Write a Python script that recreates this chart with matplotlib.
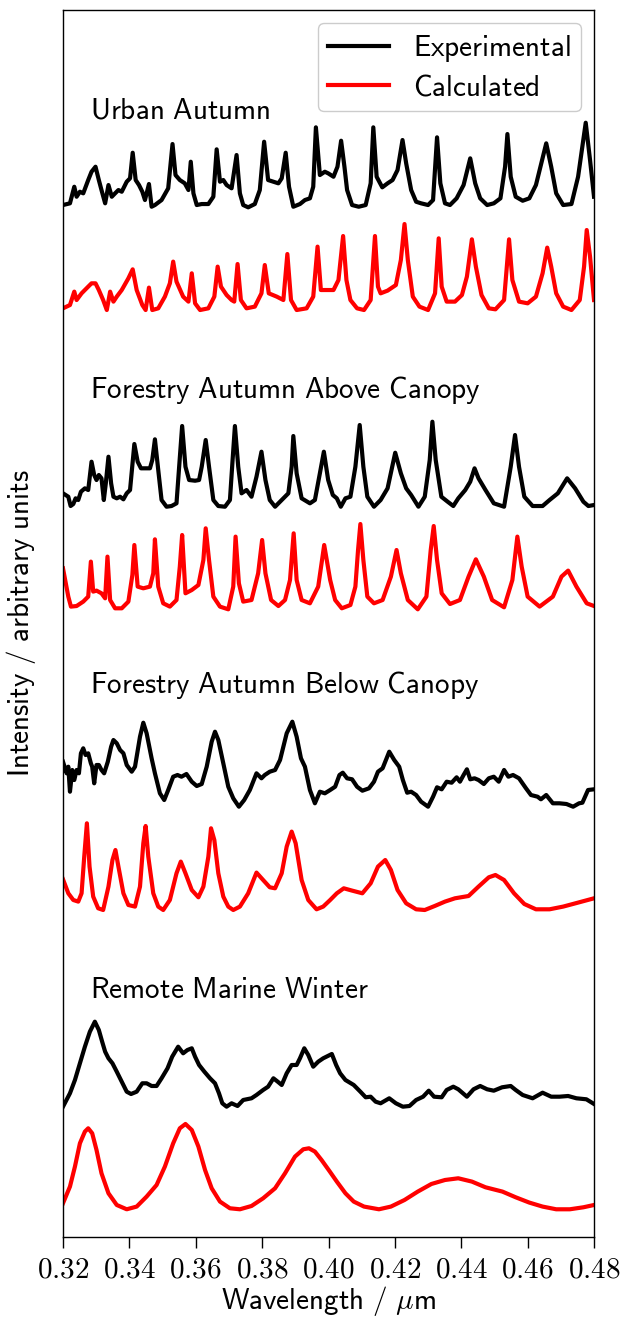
"""Stacked experimental vs calculated spectra for four sampling sites."""

import matplotlib
matplotlib.use("Agg")
import matplotlib.pyplot as plt
import numpy as np
from matplotlib.ticker import FixedLocator, FixedFormatter

plt.rcParams["mathtext.fontset"] = "cm"

# (wavelength / um, intensity / arb.)
URBAN_EXP = [
    (0.3200, 0.05), (0.3221, 0.067), (0.3234, 0.233), (0.3241, 0.133), (0.3251, 0.183),
    (0.3261, 0.167), (0.3276, 0.30), (0.3286, 0.383), (0.3298, 0.433), (0.3308, 0.30),
    (0.3316, 0.20), (0.3327, 0.067), (0.3337, 0.25), (0.3347, 0.133), (0.3357, 0.167),
    (0.3367, 0.20), (0.3377, 0.183), (0.3392, 0.283), (0.3402, 0.317), (0.3410, 0.573),
    (0.3419, 0.30), (0.3429, 0.25), (0.3439, 0.183), (0.3447, 0.10), (0.3459, 0.26),
    (0.3467, 0.033), (0.3477, 0.05), (0.3497, 0.10), (0.3517, 0.217), (0.3530, 0.66),
    (0.3539, 0.35), (0.3552, 0.30), (0.3567, 0.267), (0.3578, 0.20), (0.3585, 0.483),
    (0.3593, 0.167), (0.3603, 0.05), (0.3618, 0.06), (0.3638, 0.06), (0.3653, 0.133),
    (0.3663, 0.607), (0.3673, 0.283), (0.3683, 0.30), (0.3693, 0.25), (0.3708, 0.217),
    (0.3723, 0.55), (0.3733, 0.167), (0.3743, 0.05), (0.3758, 0.027), (0.3778, 0.06),
    (0.3793, 0.20), (0.3806, 0.683), (0.3818, 0.30), (0.3834, 0.283), (0.3849, 0.267),
    (0.3859, 0.317), (0.3871, 0.573), (0.3881, 0.233), (0.3894, 0.033), (0.3914, 0.06),
    (0.3929, 0.10), (0.3944, 0.117), (0.3954, 0.233), (0.3962, 0.827), (0.3974, 0.35),
    (0.3989, 0.383), (0.3999, 0.367), (0.4015, 0.333), (0.4027, 0.433), (0.4038, 0.693),
    (0.4048, 0.433), (0.4056, 0.20), (0.4071, 0.05), (0.4091, 0.033), (0.4112, 0.05),
    (0.4127, 0.267), (0.4135, 0.827), (0.4145, 0.333), (0.4162, 0.227), (0.4178, 0.267),
    (0.4193, 0.30), (0.4208, 0.40), (0.4223, 0.70), (0.4234, 0.467), (0.4249, 0.20),
    (0.4264, 0.083), (0.4279, 0.067), (0.4300, 0.05), (0.4315, 0.10), (0.4327, 0.727),
    (0.4337, 0.267), (0.4351, 0.067), (0.4366, 0.05), (0.4386, 0.117), (0.4407, 0.25),
    (0.4427, 0.517), (0.4442, 0.267), (0.4457, 0.117), (0.4478, 0.05), (0.4498, 0.067),
    (0.4518, 0.117), (0.4532, 0.433), (0.4539, 0.76), (0.4549, 0.333), (0.4564, 0.133),
    (0.4585, 0.093), (0.4605, 0.117), (0.4625, 0.25), (0.4656, 0.667), (0.4671, 0.433),
    (0.4686, 0.167), (0.4707, 0.05), (0.4732, 0.06), (0.4752, 0.333), (0.4775, 0.873),
    (0.4788, 0.50), (0.4800, 0.133),
]
URBAN_CALC = [
    (0.3200, 0.05), (0.3221, 0.083), (0.3234, 0.217), (0.3241, 0.133), (0.3256, 0.20),
    (0.3276, 0.267), (0.3286, 0.30), (0.3298, 0.30), (0.3308, 0.233), (0.3321, 0.133),
    (0.3332, 0.033), (0.3342, 0.217), (0.3352, 0.117), (0.3362, 0.167), (0.3377, 0.233),
    (0.3397, 0.35), (0.3410, 0.44), (0.3422, 0.233), (0.3439, 0.083), (0.3449, 0.033),
    (0.3459, 0.257), (0.3469, 0.033), (0.3487, 0.05), (0.3507, 0.167), (0.3522, 0.30),
    (0.3532, 0.517), (0.3542, 0.317), (0.3562, 0.167), (0.3578, 0.117), (0.3588, 0.40),
    (0.3598, 0.10), (0.3613, 0.033), (0.3638, 0.05), (0.3656, 0.167), (0.3666, 0.467),
    (0.3676, 0.267), (0.3693, 0.183), (0.3708, 0.133), (0.3716, 0.117), (0.3726, 0.493),
    (0.3736, 0.133), (0.3753, 0.05), (0.3778, 0.067), (0.3798, 0.20), (0.3808, 0.483),
    (0.3820, 0.20), (0.3844, 0.167), (0.3864, 0.133), (0.3876, 0.593), (0.3887, 0.133),
    (0.3904, 0.033), (0.3934, 0.05), (0.3954, 0.167), (0.3967, 0.667), (0.3977, 0.233),
    (0.4004, 0.233), (0.4015, 0.233), (0.4030, 0.333), (0.4044, 0.773), (0.4054, 0.333),
    (0.4066, 0.133), (0.4086, 0.05), (0.4107, 0.033), (0.4127, 0.133), (0.4140, 0.773),
    (0.4149, 0.267), (0.4157, 0.20), (0.4178, 0.227), (0.4203, 0.283), (0.4218, 0.533),
    (0.4229, 0.893), (0.4239, 0.533), (0.4254, 0.167), (0.4274, 0.067), (0.4300, 0.033),
    (0.4321, 0.20), (0.4332, 0.75), (0.4341, 0.267), (0.4356, 0.117), (0.4381, 0.117),
    (0.4402, 0.183), (0.4417, 0.367), (0.4432, 0.74), (0.4444, 0.467), (0.4461, 0.183),
    (0.4483, 0.05), (0.4503, 0.04), (0.4529, 0.133), (0.4544, 0.74), (0.4554, 0.333),
    (0.4574, 0.117), (0.4600, 0.10), (0.4625, 0.167), (0.4645, 0.40), (0.4659, 0.657),
    (0.4671, 0.467), (0.4686, 0.20), (0.4707, 0.067), (0.4732, 0.033), (0.4757, 0.133),
    (0.4770, 0.467), (0.4778, 0.833), (0.4788, 0.567), (0.4800, 0.133),
]
ABOVE_EXP = [
    (0.3200, 0.167), (0.3216, 0.133), (0.3223, 0.04), (0.3231, 0.06), (0.3238, 0.117),
    (0.3246, 0.10), (0.3254, 0.183), (0.3266, 0.217), (0.3276, 0.20), (0.3286, 0.483),
    (0.3294, 0.35), (0.3301, 0.30), (0.3308, 0.35), (0.3316, 0.317), (0.3323, 0.10),
    (0.3329, 0.267), (0.3337, 0.533), (0.3345, 0.267), (0.3352, 0.133), (0.3362, 0.117),
    (0.3372, 0.133), (0.3382, 0.107), (0.3392, 0.167), (0.3402, 0.20), (0.3415, 0.66),
    (0.3425, 0.483), (0.3435, 0.417), (0.3447, 0.417), (0.3462, 0.417), (0.3469, 0.50),
    (0.3477, 0.707), (0.3487, 0.40), (0.3497, 0.10), (0.3512, 0.033), (0.3527, 0.04),
    (0.3542, 0.067), (0.3550, 0.433), (0.3559, 0.84), (0.3569, 0.433), (0.3580, 0.30),
    (0.3598, 0.293), (0.3610, 0.30), (0.3618, 0.433), (0.3630, 0.70), (0.3640, 0.433),
    (0.3653, 0.10), (0.3668, 0.04), (0.3688, 0.033), (0.3703, 0.10), (0.3711, 0.50),
    (0.3718, 0.84), (0.3728, 0.433), (0.3738, 0.167), (0.3753, 0.20), (0.3768, 0.133),
    (0.3783, 0.333), (0.3798, 0.583), (0.3810, 0.30), (0.3823, 0.10), (0.3839, 0.033),
    (0.3859, 0.10), (0.3879, 0.167), (0.3889, 0.433), (0.3894, 0.74), (0.3904, 0.367),
    (0.3919, 0.117), (0.3944, 0.067), (0.3959, 0.10), (0.3974, 0.367), (0.3986, 0.583),
    (0.3999, 0.30), (0.4013, 0.15), (0.4025, 0.117), (0.4037, 0.033), (0.4051, 0.117),
    (0.4066, 0.133), (0.4081, 0.433), (0.4094, 0.85), (0.4105, 0.433), (0.4117, 0.133),
    (0.4137, 0.033), (0.4157, 0.10), (0.4178, 0.217), (0.4201, 0.573), (0.4218, 0.367),
    (0.4234, 0.217), (0.4249, 0.15), (0.4271, 0.033), (0.4290, 0.133), (0.4305, 0.50),
    (0.4313, 0.883), (0.4323, 0.50), (0.4340, 0.133), (0.4359, 0.083), (0.4376, 0.04),
    (0.4391, 0.117), (0.4412, 0.20), (0.4427, 0.283), (0.4440, 0.417), (0.4452, 0.317),
    (0.4473, 0.20), (0.4498, 0.067), (0.4529, 0.033), (0.4549, 0.433), (0.4562, 0.75),
    (0.4574, 0.433), (0.4590, 0.133), (0.4615, 0.04), (0.4645, 0.04), (0.4666, 0.10),
    (0.4691, 0.167), (0.4719, 0.317), (0.4743, 0.217), (0.4768, 0.083), (0.4783, 0.04),
    (0.4800, 0.05),
]
ABOVE_CALC = [
    (0.3200, 0.45), (0.3216, 0.167), (0.3224, 0.067), (0.3241, 0.073), (0.3261, 0.117),
    (0.3276, 0.167), (0.3284, 0.517), (0.3291, 0.217), (0.3301, 0.227), (0.3316, 0.20),
    (0.3327, 0.15), (0.3334, 0.567), (0.3342, 0.133), (0.3357, 0.05), (0.3377, 0.05),
    (0.3397, 0.117), (0.3409, 0.383), (0.3415, 0.683), (0.3425, 0.267), (0.3442, 0.25),
    (0.3462, 0.267), (0.3472, 0.40), (0.3477, 0.74), (0.3487, 0.267), (0.3502, 0.10),
    (0.3522, 0.067), (0.3542, 0.133), (0.3552, 0.467), (0.3559, 0.783), (0.3569, 0.20),
    (0.3588, 0.233), (0.3608, 0.283), (0.3623, 0.533), (0.3630, 0.85), (0.3640, 0.533),
    (0.3653, 0.167), (0.3673, 0.067), (0.3698, 0.04), (0.3713, 0.267), (0.3720, 0.767),
    (0.3730, 0.30), (0.3743, 0.117), (0.3768, 0.133), (0.3788, 0.40), (0.3800, 0.733),
    (0.3810, 0.40), (0.3827, 0.133), (0.3849, 0.073), (0.3869, 0.133), (0.3884, 0.333),
    (0.3895, 0.80), (0.3904, 0.333), (0.3919, 0.133), (0.3944, 0.10), (0.3969, 0.267),
    (0.3987, 0.683), (0.4005, 0.333), (0.4020, 0.133), (0.4040, 0.05), (0.4066, 0.083),
    (0.4081, 0.267), (0.4089, 0.633), (0.4096, 0.893), (0.4105, 0.533), (0.4117, 0.167),
    (0.4137, 0.10), (0.4163, 0.133), (0.4188, 0.367), (0.4205, 0.633), (0.4218, 0.40),
    (0.4239, 0.133), (0.4269, 0.04), (0.4295, 0.167), (0.4308, 0.633), (0.4317, 0.873),
    (0.4327, 0.533), (0.4341, 0.20), (0.4366, 0.093), (0.4396, 0.133), (0.4422, 0.367),
    (0.4444, 0.54), (0.4468, 0.367), (0.4493, 0.133), (0.4529, 0.06), (0.4554, 0.333),
    (0.4569, 0.767), (0.4582, 0.467), (0.4600, 0.167), (0.4636, 0.067), (0.4676, 0.167),
    (0.4702, 0.367), (0.4722, 0.427), (0.4747, 0.267), (0.4778, 0.10), (0.4800, 0.073),
]
BELOW_EXP = [
    (0.3200, 0.483), (0.3211, 0.367), (0.3216, 0.433), (0.3221, 0.183), (0.3228, 0.40),
    (0.3234, 0.30), (0.3241, 0.40), (0.3248, 0.367), (0.3254, 0.567), (0.3261, 0.617),
    (0.3268, 0.55), (0.3276, 0.567), (0.3284, 0.467), (0.3288, 0.433), (0.3294, 0.267),
    (0.3301, 0.45), (0.3308, 0.45), (0.3316, 0.40), (0.3324, 0.367), (0.3335, 0.483),
    (0.3345, 0.633), (0.3352, 0.70), (0.3362, 0.667), (0.3372, 0.60), (0.3382, 0.567),
    (0.3392, 0.45), (0.3407, 0.383), (0.3417, 0.433), (0.3432, 0.733), (0.3442, 0.873),
    (0.3452, 0.767), (0.3467, 0.517), (0.3477, 0.367), (0.3492, 0.167), (0.3505, 0.10),
    (0.3517, 0.20), (0.3532, 0.333), (0.3545, 0.35), (0.3557, 0.333), (0.3572, 0.36),
    (0.3588, 0.283), (0.3603, 0.24), (0.3618, 0.26), (0.3633, 0.433), (0.3648, 0.683),
    (0.3658, 0.783), (0.3668, 0.70), (0.3683, 0.467), (0.3698, 0.233), (0.3713, 0.117),
    (0.3730, 0.033), (0.3746, 0.10), (0.3763, 0.20), (0.3783, 0.367), (0.3798, 0.317),
    (0.3808, 0.35), (0.3823, 0.383), (0.3839, 0.40), (0.3854, 0.50), (0.3874, 0.767),
    (0.3891, 0.883), (0.3904, 0.733), (0.3917, 0.517), (0.3929, 0.433), (0.3944, 0.20),
    (0.3959, 0.067), (0.3974, 0.183), (0.3989, 0.167), (0.4005, 0.20), (0.4020, 0.233),
    (0.4033, 0.35), (0.4043, 0.373), (0.4056, 0.317), (0.4071, 0.307), (0.4086, 0.233),
    (0.4102, 0.193), (0.4122, 0.217), (0.4137, 0.283), (0.4149, 0.383), (0.4163, 0.417),
    (0.4183, 0.583), (0.4198, 0.50), (0.4213, 0.433), (0.4224, 0.30), (0.4237, 0.173),
    (0.4249, 0.183), (0.4264, 0.15), (0.4279, 0.083), (0.4300, 0.033), (0.4315, 0.133),
    (0.4327, 0.227), (0.4341, 0.207), (0.4356, 0.283), (0.4371, 0.273), (0.4386, 0.327),
    (0.4396, 0.283), (0.4407, 0.35), (0.4417, 0.407), (0.4427, 0.307), (0.4440, 0.317),
    (0.4452, 0.30), (0.4468, 0.26), (0.4483, 0.317), (0.4498, 0.333), (0.4513, 0.283),
    (0.4529, 0.40), (0.4542, 0.333), (0.4556, 0.35), (0.4574, 0.317), (0.4595, 0.217),
    (0.4610, 0.15), (0.4630, 0.133), (0.4640, 0.107), (0.4656, 0.15), (0.4676, 0.067),
    (0.4696, 0.067), (0.4717, 0.06), (0.4737, 0.033), (0.4755, 0.067), (0.4765, 0.073),
    (0.4782, 0.20), (0.4800, 0.207),
]
BELOW_CALC = [
    (0.3200, 0.34), (0.3216, 0.20), (0.3231, 0.133), (0.3246, 0.117), (0.3256, 0.20),
    (0.3264, 0.567), (0.3272, 0.90), (0.3280, 0.467), (0.3291, 0.167), (0.3306, 0.05),
    (0.3321, 0.033), (0.3337, 0.267), (0.3349, 0.533), (0.3358, 0.633), (0.3367, 0.467),
    (0.3382, 0.20), (0.3397, 0.083), (0.3417, 0.067), (0.3432, 0.267), (0.3442, 0.70),
    (0.3449, 0.873), (0.3457, 0.567), (0.3472, 0.20), (0.3487, 0.067), (0.3502, 0.033),
    (0.3522, 0.133), (0.3542, 0.40), (0.3555, 0.517), (0.3569, 0.40), (0.3588, 0.233),
    (0.3608, 0.16), (0.3623, 0.267), (0.3638, 0.567), (0.3646, 0.85), (0.3656, 0.733),
    (0.3668, 0.40), (0.3683, 0.167), (0.3698, 0.067), (0.3713, 0.033), (0.3733, 0.067),
    (0.3758, 0.20), (0.3783, 0.407), (0.3803, 0.333), (0.3823, 0.26), (0.3839, 0.25),
    (0.3859, 0.40), (0.3874, 0.667), (0.3889, 0.817), (0.3901, 0.70), (0.3919, 0.333),
    (0.3939, 0.133), (0.3964, 0.04), (0.3984, 0.067), (0.4005, 0.133), (0.4025, 0.20),
    (0.4046, 0.25), (0.4071, 0.227), (0.4102, 0.20), (0.4127, 0.30), (0.4149, 0.467),
    (0.4171, 0.533), (0.4188, 0.433), (0.4208, 0.233), (0.4234, 0.10), (0.4264, 0.04),
    (0.4290, 0.033), (0.4320, 0.073), (0.4351, 0.117), (0.4381, 0.15), (0.4422, 0.173),
    (0.4452, 0.267), (0.4483, 0.36), (0.4503, 0.383), (0.4529, 0.333), (0.4559, 0.20),
    (0.4590, 0.093), (0.4625, 0.04), (0.4666, 0.04), (0.4707, 0.067), (0.4752, 0.107),
    (0.4800, 0.15),
]
MARINE_EXP = [
    (0.3200, 0.033), (0.3221, 0.167), (0.3236, 0.30), (0.3251, 0.467), (0.3266, 0.633),
    (0.3281, 0.783), (0.3296, 0.883), (0.3308, 0.80), (0.3318, 0.683), (0.3327, 0.583),
    (0.3337, 0.517), (0.3349, 0.467), (0.3362, 0.383), (0.3377, 0.283), (0.3392, 0.183),
    (0.3405, 0.16), (0.3422, 0.183), (0.3439, 0.267), (0.3452, 0.267), (0.3467, 0.24),
    (0.3482, 0.24), (0.3497, 0.317), (0.3515, 0.417), (0.3529, 0.533), (0.3547, 0.633),
    (0.3562, 0.567), (0.3575, 0.60), (0.3588, 0.617), (0.3598, 0.533), (0.3610, 0.45),
    (0.3626, 0.383), (0.3643, 0.317), (0.3658, 0.267), (0.3670, 0.167), (0.3680, 0.067),
    (0.3693, 0.033), (0.3708, 0.067), (0.3726, 0.04), (0.3743, 0.10), (0.3768, 0.117),
    (0.3783, 0.15), (0.3803, 0.20), (0.3818, 0.233), (0.3834, 0.317), (0.3847, 0.283),
    (0.3859, 0.25), (0.3874, 0.367), (0.3889, 0.45), (0.3904, 0.45), (0.3914, 0.517),
    (0.3927, 0.617), (0.3939, 0.55), (0.3954, 0.433), (0.3969, 0.483), (0.3984, 0.517),
    (0.4010, 0.56), (0.4023, 0.45), (0.4035, 0.367), (0.4051, 0.30), (0.4076, 0.25),
    (0.4096, 0.183), (0.4112, 0.127), (0.4127, 0.133), (0.4142, 0.083), (0.4157, 0.067),
    (0.4183, 0.117), (0.4203, 0.067), (0.4224, 0.033), (0.4244, 0.04), (0.4264, 0.10),
    (0.4285, 0.133), (0.4302, 0.193), (0.4318, 0.133), (0.4341, 0.127), (0.4356, 0.20),
    (0.4376, 0.233), (0.4391, 0.207), (0.4417, 0.133), (0.4437, 0.207), (0.4457, 0.24),
    (0.4478, 0.207), (0.4498, 0.193), (0.4523, 0.227), (0.4549, 0.24), (0.4564, 0.20),
    (0.4585, 0.15), (0.4615, 0.117), (0.4645, 0.173), (0.4671, 0.133), (0.4696, 0.133),
    (0.4722, 0.14), (0.4747, 0.117), (0.4777, 0.107), (0.4800, 0.06),
]
MARINE_CALC = [
    (0.3200, 0.10), (0.3221, 0.267), (0.3236, 0.467), (0.3251, 0.70), (0.3266, 0.817),
    (0.3276, 0.85), (0.3288, 0.80), (0.3301, 0.633), (0.3316, 0.40), (0.3337, 0.20),
    (0.3362, 0.083), (0.3392, 0.04), (0.3422, 0.067), (0.3452, 0.167), (0.3482, 0.283),
    (0.3507, 0.467), (0.3532, 0.70), (0.3552, 0.85), (0.3569, 0.893), (0.3588, 0.833),
    (0.3608, 0.667), (0.3628, 0.433), (0.3648, 0.25), (0.3673, 0.117), (0.3703, 0.05),
    (0.3733, 0.04), (0.3768, 0.073), (0.3803, 0.15), (0.3839, 0.25), (0.3869, 0.40),
    (0.3899, 0.567), (0.3924, 0.64), (0.3941, 0.65), (0.3959, 0.617), (0.3979, 0.533),
    (0.4004, 0.417), (0.4025, 0.317), (0.4051, 0.20), (0.4076, 0.117), (0.4107, 0.067),
    (0.4152, 0.04), (0.4188, 0.067), (0.4229, 0.133), (0.4269, 0.217), (0.4310, 0.293),
    (0.4351, 0.333), (0.4391, 0.35), (0.4432, 0.317), (0.4473, 0.26), (0.4524, 0.217),
    (0.4564, 0.16), (0.4605, 0.107), (0.4645, 0.067), (0.4686, 0.04), (0.4727, 0.04),
    (0.4768, 0.06), (0.4800, 0.083),
]

SITES = ["Urban Autumn", "Forestry Autumn Above Canopy",
         "Forestry Autumn Below Canopy", "Remote Marine Winter"]
XTICKS = [0.32, 0.34, 0.36, 0.38, 0.40, 0.42, 0.44, 0.46, 0.48]

# vertical stacking: (experimental offset, calculated offset, label height)
STACK = [(10.25, 9.217, 11.25), (7.25, 6.217, 8.45),
         (4.25, 3.217, 5.50), (1.25, 0.217, 2.45)]

EXP_COLOR = "black"
CALC_COLOR = (1.0, 0.0, 0.0)
FS = 21


def sf(s):
    """Computer Modern sans text via mathtext."""
    return r"$\mathsf{" + s.replace(" ", r"\ ") + "}$"


def main():
    fig = plt.figure(figsize=(6.2, 13.21), dpi=100)
    ax = fig.add_axes([0.1016, 0.0636, 0.8565, 0.9288])

    pairs = [(URBAN_EXP, URBAN_CALC), (ABOVE_EXP, ABOVE_CALC),
             (BELOW_EXP, BELOW_CALC), (MARINE_EXP, MARINE_CALC)]
    for i, ((exp, calc), (off_e, off_c, y_lab)) in enumerate(zip(pairs, STACK)):
        we, ie = np.array(exp).T
        wc, ic = np.array(calc).T
        ax.plot(we, ie + off_e, color=EXP_COLOR, lw=3.0, solid_joinstyle="round",
                label=sf("Experimental") if i == 0 else None)
        ax.plot(wc, ic + off_c, color=CALC_COLOR, lw=3.0, solid_joinstyle="round",
                label=sf("Calculated") if i == 0 else None)
        ax.text(0.3281, y_lab, sf(SITES[i]), fontsize=FS, va="center", ha="left")

    ax.set_xlim(0.32, 0.48)
    ax.set_ylim(-0.02, 12.25)
    ax.xaxis.set_major_locator(FixedLocator(XTICKS))
    ax.xaxis.set_major_formatter(FixedFormatter([f"${t:.2f}$" for t in XTICKS]))
    ax.tick_params(axis="x", direction="out", length=8, width=1.0,
                   labelsize=FS, pad=5)
    ax.set_yticks([])
    for sp in ax.spines.values():
        sp.set_linewidth(1.0)

    ax.set_xlabel(sf("Wavelength / ") + r"$\mu$" + sf("m"), fontsize=FS, labelpad=1)
    ax.set_ylabel(sf("Intensity / arbitrary units"), fontsize=FS)
    ax.yaxis.set_label_coords(-0.047, 0.5)

    ax.legend(loc="upper right", fontsize=FS, handlelength=2.1, labelspacing=0.3,
              borderpad=0.35, borderaxespad=0.45, framealpha=1.0, edgecolor="#cccccc")

    fig.savefig("out.png", dpi=100)
    plt.close(fig)


if __name__ == "__main__":
    main()
